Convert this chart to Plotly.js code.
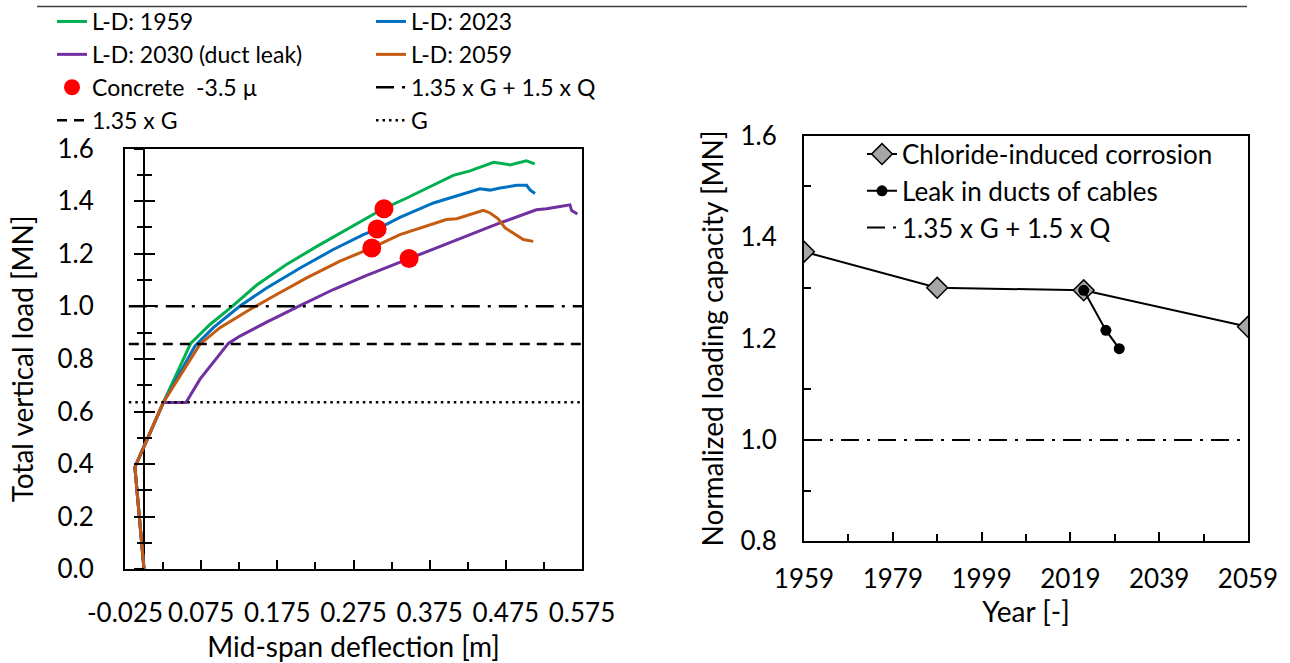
<!DOCTYPE html>
<html>
<head>
<meta charset="utf-8">
<script src="https://cdn.plot.ly/plotly-3.0.1.min.js"></script>
<style>html,body{margin:0;padding:0;background:#fff;}#chart{width:1290px;height:663px;}</style>
</head>
<body>
<div id="chart"></div>
<script>
// ---- Left chart: load-deflection curves ----
const defl1959 = [0, -0.012, 0.0253, 0.0612, 0.0866, 0.115, 0.148, 0.187, 0.227, 0.275, 0.314, 0.345, 0.380, 0.406, 0.428, 0.459, 0.4805, 0.502, 0.513];
const load1959 = [0, 0.388, 0.634, 0.859, 0.931, 0.998, 1.081, 1.159, 1.228, 1.307, 1.371, 1.412, 1.460, 1.498, 1.515, 1.548, 1.538, 1.553, 1.542];
const defl2023 = [0, -0.012, 0.0253, 0.0669, 0.091, 0.126, 0.161, 0.205, 0.2485, 0.288, 0.306, 0.336, 0.380, 0.4105, 0.441, 0.4543, 0.4673, 0.489, 0.5024, 0.5067, 0.5133];
const load2023 = [0, 0.388, 0.634, 0.849, 0.919, 1.001, 1.070, 1.146, 1.216, 1.273, 1.294, 1.338, 1.393, 1.420, 1.447, 1.442, 1.450, 1.460, 1.460, 1.443, 1.429];
const defl2030 = [0, -0.012, 0.0253, 0.0551, 0.0735, 0.1107, 0.126, 0.161, 0.2048, 0.2485, 0.2923, 0.3483, 0.3798, 0.4236, 0.4673, 0.515, 0.5286, 0.5461, 0.5592, 0.5614, 0.5689];
const load2030 = [0, 0.388, 0.634, 0.634, 0.723, 0.859, 0.887, 0.940, 1.003, 1.064, 1.118, 1.182, 1.216, 1.266, 1.317, 1.367, 1.371, 1.380, 1.386, 1.364, 1.351];
const defl2059 = [0, -0.012, 0.0253, 0.0735, 0.0997, 0.139, 0.174, 0.2135, 0.2573, 0.2989, 0.336, 0.371, 0.397, 0.4105, 0.4455, 0.4543, 0.465, 0.474, 0.485, 0.498, 0.511];
const load2059 = [0, 0.388, 0.634, 0.856, 0.919, 0.988, 1.045, 1.108, 1.172, 1.222, 1.273, 1.304, 1.330, 1.333, 1.365, 1.355, 1.333, 1.298, 1.279, 1.254, 1.247];
const concreteDefl = [0.315, 0.306, 0.299, 0.348];
const concreteLoad = [1.371, 1.294, 1.222, 1.182];
const refLineX = [-0.02, 0.575];
const loadG = 0.635;
const load135G = 0.857;
const loadULS = 1.0;
const xTickVals = [-0.025, 0.075, 0.175, 0.275, 0.375, 0.475, 0.575];
const xTickText = ["-0.025", "0.075", "0.175", "0.275", "0.375", "0.475", "0.575"];

// ---- Right chart: capacity over time ----
const yearsChloride = [1959, 1989, 2022, 2059];
const capChloride = [1.371, 1.300, 1.295, 1.223];
const yearsLeak = [2022, 2027, 2030];
const capLeak = [1.295, 1.216, 1.180];
const yearsRange = [1959, 2059];
const capULS = 1.0;

const W = 1290, H = 663;
const FONT = 'Lato, "Open Sans", sans-serif';
const px = v => v / W;
const py = v => 1 - v / H;

const traces = [
  {x: defl1959, y: load1959, mode: 'lines', name: 'L-D: 1959', line: {color: '#00B050', width: 3}, legend: 'legend', legendrank: 1},
  {x: defl2023, y: load2023, mode: 'lines', name: 'L-D: 2023', line: {color: '#0070C0', width: 3}, legend: 'legend2', legendrank: 1},
  {x: defl2030, y: load2030, mode: 'lines', name: 'L-D: 2030 (duct leak)', line: {color: '#7030A0', width: 3}, legend: 'legend', legendrank: 2},
  {x: defl2059, y: load2059, mode: 'lines', name: 'L-D: 2059', line: {color: '#C55A11', width: 3}, legend: 'legend2', legendrank: 2},
  {x: refLineX, y: refLineX.map(() => loadULS), mode: 'lines', name: '1.35 x G + 1.5 x Q', line: {color: '#000', width: 2.5, dash: '18px,8px,3px,8px'}, legend: 'legend2', legendrank: 3},
  {x: refLineX, y: refLineX.map(() => load135G), mode: 'lines', name: '1.35 x G', line: {color: '#000', width: 2.5, dash: '10px,7px'}, legend: 'legend', legendrank: 4},
  {x: refLineX, y: refLineX.map(() => loadG), mode: 'lines', name: 'G', line: {color: '#000', width: 2.5, dash: '2.5px,4px'}, legend: 'legend2', legendrank: 4},
  {x: concreteDefl, y: concreteLoad, mode: 'markers', name: 'Concrete\u00a0 -3.5 \u00b5', marker: {color: '#FF0000', size: 19}, legend: 'legend', legendrank: 3},
  // empty helpers so the cross-tick axes at x = 0 are drawn
  {x: [null], y: [null], yaxis: 'y3', showlegend: false, hoverinfo: 'skip'},
  {x: [null], y: [null], yaxis: 'y4', showlegend: false, hoverinfo: 'skip'},
  // right chart
  {x: yearsChloride, y: capChloride, xaxis: 'x2', yaxis: 'y2', mode: 'lines+markers', name: 'Chloride-induced corrosion',
   line: {color: '#000', width: 2}, marker: {symbol: 'diamond', size: 16, color: '#A6A6A6', line: {color: '#000', width: 1.5}}, legend: 'legend3', legendrank: 1},
  {x: yearsLeak, y: capLeak, xaxis: 'x2', yaxis: 'y2', mode: 'lines+markers', name: 'Leak in ducts of cables',
   line: {color: '#000', width: 2}, marker: {symbol: 'circle', size: 11, color: '#000'}, legend: 'legend3', legendrank: 2},
  {x: yearsRange, y: yearsRange.map(() => capULS), xaxis: 'x2', yaxis: 'y2', mode: 'lines', name: '1.35 x G + 1.5 x Q',
   line: {color: '#000', width: 2, dash: '18px,8px,3px,8px'}, legend: 'legend3', legendrank: 3}
];

const x0pos = 125 + 0.025 / 0.6 * 457;

const layout = {
  width: W, height: H,
  margin: {l: 0, r: 0, t: 0, b: 0},
  paper_bgcolor: '#fff', plot_bgcolor: '#fff',
  font: {family: FONT, size: 26, color: '#000'},
  showlegend: true,
  xaxis: {
    domain: [px(125), px(582)], range: [-0.025, 0.575], anchor: 'y',
    tickmode: 'array', tickvals: xTickVals, ticktext: xTickText,
    ticks: 'inside', ticklen: 9, tickwidth: 2, tickcolor: '#000',
    minor: {tickmode: 'linear', tick0: -0.025, dtick: 0.05, ticks: 'inside', ticklen: 7, tickwidth: 2, tickcolor: '#000', showgrid: false},
    showline: true, linecolor: '#000', linewidth: 2, mirror: true,
    showgrid: false, zeroline: true, zerolinecolor: '#000', zerolinewidth: 2,
    automargin: false, ticklabelstandoff: 20,
    tickfont: {size: 26},
    title: {text: 'Mid-span deflection [m]', font: {size: 28}, standoff: 12}
  },
  yaxis: {
    domain: [py(569), py(147)], range: [0, 1.6], anchor: 'x',
    tick0: 0, dtick: 0.2, tickformat: '.1f', ticks: '',
    showline: true, linecolor: '#000', linewidth: 2, mirror: true,
    showgrid: false, zeroline: false, automargin: false, ticklabelstandoff: 24,
    tickfont: {size: 26},
    title: {text: 'Total vertical load [MN]', font: {size: 28}, standoff: 16}
  },
  yaxis3: {
    overlaying: 'y', anchor: 'free', position: px(x0pos), side: 'left', range: [0, 1.6],
    showline: false, showgrid: false, zeroline: false, showticklabels: false,
    tick0: 0, dtick: 0.2, ticks: 'outside', ticklen: 10, tickwidth: 2, tickcolor: '#000',
    minor: {tick0: 0, dtick: 0.1, ticks: 'outside', ticklen: 7, tickwidth: 2, tickcolor: '#000', showgrid: false}
  },
  yaxis4: {
    overlaying: 'y', anchor: 'free', position: px(x0pos), side: 'left', range: [0, 1.6],
    showline: false, showgrid: false, zeroline: false, showticklabels: false,
    tick0: 0, dtick: 0.2, ticks: 'inside', ticklen: 10, tickwidth: 2, tickcolor: '#000',
    minor: {tick0: 0, dtick: 0.1, ticks: 'inside', ticklen: 7, tickwidth: 2, tickcolor: '#000', showgrid: false}
  },
  xaxis2: {
    domain: [px(804), px(1248)], range: [1959, 2059], anchor: 'y2',
    tick0: 1959, dtick: 20, tickformat: 'd', ticks: 'inside', ticklen: 9, tickwidth: 2, tickcolor: '#000',
    minor: {tick0: 1959, dtick: 10, ticks: 'inside', ticklen: 7, tickwidth: 2, tickcolor: '#000', showgrid: false},
    showline: true, linecolor: '#000', linewidth: 2, mirror: true,
    showgrid: false, zeroline: false, automargin: false, ticklabelstandoff: 13,
    tickfont: {size: 26},
    title: {text: 'Year [-]', font: {size: 28}, standoff: 8}
  },
  yaxis2: {
    domain: [py(541), py(134)], range: [0.8, 1.6], anchor: 'x2',
    tick0: 0.8, dtick: 0.2, tickformat: '.1f', ticks: '',
    minor: {tick0: 0.8, dtick: 0.1, ticks: 'inside', ticklen: 7, tickwidth: 2, tickcolor: '#000', showgrid: false},
    showline: true, linecolor: '#000', linewidth: 2, mirror: true,
    showgrid: false, zeroline: false, automargin: false, ticklabelstandoff: 20,
    tickfont: {size: 26},
    title: {text: 'Normalized loading capacity [MN]', font: {size: 28}, standoff: 9}
  },
  legend: {x: px(52), y: py(-2), xanchor: 'left', yanchor: 'top', bgcolor: 'rgba(0,0,0,0)',
    font: {size: 23, family: FONT}, tracegroupgap: 0},
  legend2: {x: px(371), y: py(-2), xanchor: 'left', yanchor: 'top', bgcolor: 'rgba(0,0,0,0)',
    font: {size: 23, family: FONT}, tracegroupgap: 0},
  legend3: {x: px(862), y: py(129), xanchor: 'left', yanchor: 'top', bgcolor: 'rgba(0,0,0,0)',
    font: {size: 26, family: FONT}, tracegroupgap: 0},
  shapes: [
    {type: 'line', xref: 'paper', yref: 'paper', x0: px(37), x1: px(1247), y0: py(4.5), y1: py(4.5),
     line: {color: '#404040', width: 1.5}}
  ]
};

Plotly.newPlot('chart', traces, layout, {displayModeBar: false, staticPlot: true});
</script>
</body>
</html>
